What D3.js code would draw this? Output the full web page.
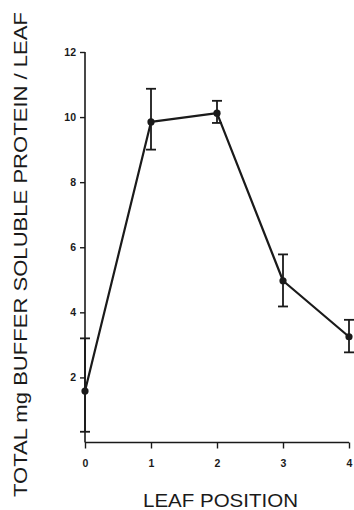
<!DOCTYPE html>
<html><head><meta charset="utf-8">
<script src="https://cdn.jsdelivr.net/npm/d3@7"></script>
<style>
html,body{margin:0;padding:0;background:#fff;}
svg{display:block;}
</style></head>
<body>
<svg id="chart" width="354" height="510"></svg>
<script>
const leafPositions = [0, 1, 2, 3, 4];
const proteinMean = [1.58, 9.85, 10.12, 4.97, 3.25];
const errorUpper = [3.2, 10.87, 10.5, 5.78, 3.77];
const errorLower = [0.33, 9.0, 9.82, 4.18, 2.77];
const yTickValues = [2, 4, 6, 8, 10, 12];
const xTickValues = [0, 1, 2, 3, 4];
const xTitle = "LEAF  POSITION";
const yTitle = "TOTAL mg  BUFFER  SOLUBLE  PROTEIN / LEAF";

const svg = d3.select("#chart");
const ink = "#1a1a1a";
const x = d3.scaleLinear().domain([0, 4]).range([85, 349]);
const y = d3.scaleLinear().domain([0, 12]).range([442.5, 52]);

const font = "'Liberation Sans', Arial, Helvetica, sans-serif";

// axes
const yAxis = d3.axisLeft(y).tickValues(yTickValues).tickFormat(d3.format("d"))
  .tickSize(5).tickSizeOuter(0).tickPadding(4);
const gy = svg.append("g").attr("transform", `translate(${x(0)},0)`).call(yAxis);
const xAxis = d3.axisBottom(x).tickValues(xTickValues).tickFormat(d3.format("d"))
  .tickSize(6).tickSizeOuter(0).tickPadding(11);
const gx = svg.append("g").attr("transform", `translate(0,${y(0)})`).call(xAxis);

[gx, gy].forEach(g => {
  g.select(".domain").attr("stroke", ink).attr("stroke-width", 1.6);
  g.selectAll(".tick line").attr("stroke", ink).attr("stroke-width", 1.4);
  g.selectAll(".tick text").attr("fill", ink).attr("font-family", font)
    .attr("font-size", 10.5).attr("font-weight", "bold");
});
gy.select(".domain").attr("d", `M0,${y(12)}V${y(0)}`);
gx.select(".domain").attr("d", `M${x(0)},0H${x(4)}`);

const data = leafPositions.map((p, i) => ({p, m: proteinMean[i], hi: errorUpper[i], lo: errorLower[i]}));

// error bars
const eb = svg.append("g").attr("stroke", ink).attr("stroke-width", 1.8).attr("fill", "none");
data.forEach(d => {
  eb.append("line").attr("x1", x(d.p)).attr("x2", x(d.p)).attr("y1", y(d.hi)).attr("y2", y(d.lo));
  eb.append("line").attr("x1", x(d.p) - 5).attr("x2", x(d.p) + 5).attr("y1", y(d.hi)).attr("y2", y(d.hi));
  eb.append("line").attr("x1", x(d.p) - 5).attr("x2", x(d.p) + 5).attr("y1", y(d.lo)).attr("y2", y(d.lo));
});

// line
svg.append("path").datum(data)
  .attr("fill", "none").attr("stroke", ink).attr("stroke-width", 2.2)
  .attr("stroke-linejoin", "round")
  .attr("d", d3.line().x(d => x(d.p)).y(d => y(d.m)));

// markers
svg.append("g").selectAll("circle").data(data).join("circle")
  .attr("cx", d => x(d.p)).attr("cy", d => y(d.m)).attr("r", 3.6).attr("fill", ink);

// titles
svg.append("text").attr("x", 220.5).attr("y", 507).attr("text-anchor", "middle")
  .attr("font-family", font).attr("font-size", 19).attr("fill", ink)
  .attr("textLength", 155).attr("lengthAdjust", "spacingAndGlyphs")
  .text(xTitle);

svg.append("text").attr("transform", "translate(26.5,254.5) rotate(-90)")
  .attr("text-anchor", "middle")
  .attr("font-family", font).attr("font-size", 19).attr("fill", ink)
  .attr("textLength", 485).attr("lengthAdjust", "spacingAndGlyphs")
  .text(yTitle);
</script>
</body></html>
